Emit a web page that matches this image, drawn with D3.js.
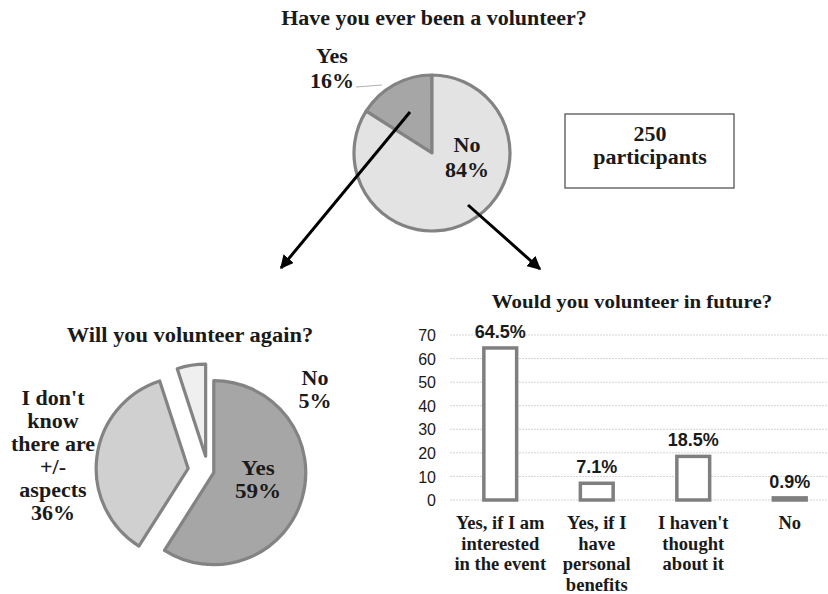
<!DOCTYPE html>
<html><head><meta charset="utf-8">
<script src="https://cdn.jsdelivr.net/npm/d3@7"></script>
<style>
html,body{margin:0;padding:0;background:#fff;}
text{font-family:"Liberation Serif","Times New Roman",serif;font-weight:bold;fill:#1a1a1a;}
</style></head><body>
<script>
// ---- Data ----
const q1Labels = ["Yes", "No"];
const q1Values = [16, 84];
const q2Labels = ["Yes", "I don't know there are +/- aspects", "No"];
const q2Values = [59, 36, 5];
const q3Categories = [
  ["Yes, if I am", "interested", "in the event"],
  ["Yes, if I", "have", "personal", "benefits"],
  ["I haven't", "thought", "about it"],
  ["No"]
];
const q3Values = [64.5, 7.1, 18.5, 0.9];
const q3ValueLabels = ["64.5%", "7.1%", "18.5%", "0.9%"];
const yTicks = [0, 10, 20, 30, 40, 50, 60, 70];

const W = 828, H = 594;
const svg = d3.select("body").append("svg").attr("width", W).attr("height", H);
const defs = svg.append("defs");
defs.append("marker").attr("id","arr").attr("viewBox","0 0 10 10").attr("refX",9).attr("refY",5)
  .attr("markerWidth",4.5).attr("markerHeight",4.5).attr("orient","auto")
  .append("path").attr("d","M0,0L10,5L0,10Z").attr("fill","#000");

const stroke = "#838383";

// stretched serif text helper
function txt(x, y, s, size, stretch){
  const t = svg.append("text").attr("x",x).attr("y",y).attr("text-anchor","middle").attr("font-size",size).text(s);
  const len = t.node().getComputedTextLength();
  t.attr("textLength", len*(stretch||1.1)).attr("lengthAdjust","spacingAndGlyphs");
  return t;
}
function multi(x, y, lines, lh, size, stretch){
  lines.forEach((l,i)=>txt(x, y+i*lh, l, size, stretch));
}

// ---- Top pie ----
txt(434, 25, "Have you ever been a volunteer?", 20, 1.1);
const p1 = d3.pie().sort(null).startAngle(0).endAngle(-2*Math.PI).value(d=>d)(q1Values);
const arc1 = d3.arc().innerRadius(0).outerRadius(78);
const g1 = svg.append("g").attr("transform","translate(432,153)");
const fill1 = ["#a6a6a6", "#e3e3e3"];
g1.selectAll("path").data(p1).join("path").attr("d",arc1).attr("fill",(d,i)=>fill1[i])
  .attr("stroke",stroke).attr("stroke-width",3.2).attr("stroke-linejoin","round");
svg.append("line").attr("x1",356).attr("y1",87).attr("x2",382).attr("y2",85).attr("stroke","#b0b0b0").attr("stroke-width",1);
txt(332, 63, q1Labels[0], 20);
txt(332, 88, q1Values[0]+"%", 20);
txt(467, 152, q1Labels[1], 20);
txt(467, 177, q1Values[1]+"%", 20);

// participants box
svg.append("rect").attr("x",565).attr("y",114).attr("width",169).attr("height",74).attr("fill","#fff").attr("stroke","#555").attr("stroke-width",1.3);
txt(650, 141, "250", 20);
txt(650, 164, "participants", 20);

// arrows
svg.append("line").attr("x1",410).attr("y1",112).attr("x2",281).attr("y2",268).attr("stroke","#000").attr("stroke-width",3).attr("marker-end","url(#arr)");
svg.append("line").attr("x1",468).attr("y1",205).attr("x2",540).attr("y2",269).attr("stroke","#000").attr("stroke-width",3).attr("marker-end","url(#arr)");

// ---- Bottom-left pie ----
txt(190, 342, "Will you volunteer again?", 20, 1.12);
const p2 = d3.pie().sort(null).value(d=>d)(q2Values);
const arc2 = d3.arc().innerRadius(0).outerRadius(92);
const explode = [6, 20, 15];
const fill2 = ["#a6a6a6", "#d0d0d0", "#efefef"];
const g2 = svg.append("g").attr("transform","translate(208,471)");
g2.selectAll("path").data(p2).join("path")
  .attr("transform",(d,i)=>{const a=(d.startAngle+d.endAngle)/2; return `translate(${Math.sin(a)*explode[i]},${-Math.cos(a)*explode[i]})`;})
  .attr("d",arc2).attr("fill",(d,i)=>fill2[i]).attr("stroke",stroke).attr("stroke-width",3.2).attr("stroke-linejoin","round");
multi(258, 475, [q2Labels[0], q2Values[0]+"%"], 23, 21);
multi(53, 405, ["I don't","know","there are","+/-","aspects", q2Values[1]+"%"], 23, 20);
multi(315, 385, [q2Labels[2], q2Values[2]+"%"], 23, 20);

// ---- Bar chart ----
txt(632, 308, "Would you volunteer in future?", 19, 1.1);
const x = d3.scaleBand().domain(d3.range(q3Values.length)).range([452, 838]).paddingInner(0.66).paddingOuter(0.33);
const y = d3.scaleLinear().domain([0,70]).range([500, 335]);
const grid = svg.append("g");
grid.selectAll("line").data(yTicks).join("line").attr("x1",450).attr("x2",828)
  .attr("y1",d=>y(d)).attr("y2",d=>y(d)).attr("stroke","#d4d4d4").attr("stroke-width",1).attr("stroke-dasharray","2,1");
const yAxis = svg.append("g").attr("transform","translate(450,0)")
  .call(d3.axisLeft(y).tickValues(yTicks).tickSize(0).tickPadding(14));
yAxis.select(".domain").remove();
yAxis.selectAll("text").style("font-family","'Liberation Sans',Arial,sans-serif").style("font-weight","normal")
  .attr("font-size",16).attr("fill","#595959").attr("dy","0.35em");
svg.selectAll(".bar").data(q3Values).join("rect").attr("class","bar")
  .attr("x",(d,i)=>x(i)).attr("width",x.bandwidth()).attr("y",d=>y(d)).attr("height",d=>y(0)-y(d))
  .attr("fill","#fff").attr("stroke","#7f7f7f").attr("stroke-width",3.5);
svg.selectAll(".vlab").data(q3Values).join("text").attr("class","vlab")
  .attr("x",(d,i)=>x(i)+x.bandwidth()/2).attr("y",d=>y(d)-10).attr("text-anchor","middle")
  .style("font-family","'Liberation Sans',Arial,sans-serif").attr("font-size",18).attr("fill","#262626")
  .text((d,i)=>q3ValueLabels[i]);
q3Categories.forEach((lines,i)=>multi(x(i)+x.bandwidth()/2, 529, lines, 20.5, 18, 1.03));
</script>
</body></html>
